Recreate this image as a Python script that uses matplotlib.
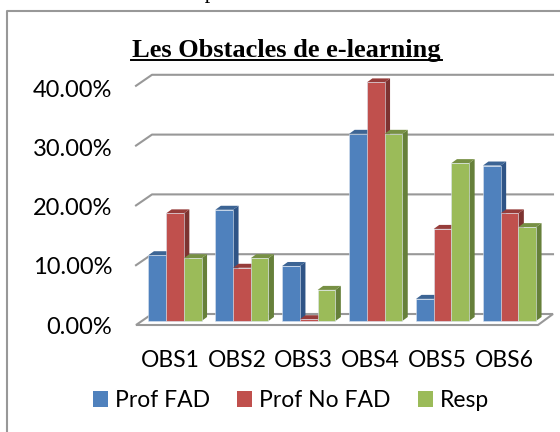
import matplotlib
matplotlib.use('Agg')
import matplotlib.pyplot as plt
from matplotlib.lines import Line2D
from matplotlib.patches import Patch, Polygon

categories = ['OBS1', 'OBS2', 'OBS3', 'OBS4', 'OBS5', 'OBS6']
series_names = ['Prof FAD', 'Prof No FAD', 'Resp']
prof_fad = [11.0, 18.6, 9.2, 31.3, 3.7, 26.0]
prof_no_fad = [18.0, 8.9, 0.3, 39.9, 15.4, 18.0]
resp = [10.5, 10.5, 5.2, 31.3, 26.4, 15.7]
ytick_values = [0, 10, 20, 30, 40]
ytick_labels = ['0.00%', '10.00%', '20.00%', '30.00%', '40.00%']

front = ['#4f81bd', '#c0504d', '#9bbb59']
side = ['#2f5486', '#7d3331', '#66803a']
top = ['#3c6494', '#963c3a', '#779044']
grey = '#989898'

W, H = 560, 432
PX_X = 66.9   # pixels per category
PX_Y = 5.98   # pixels per percent point
X0, Y0 = 175, 321   # pixel of first category centre, bar base
LEFT, RIGHT, BOTTOM, UPPER = 136, 553, 325, 60

def px(x):
    return (x - X0) / PX_X

def py(n):
    return n / PX_Y

plt.rcParams['font.family'] = ['Lato', 'DejaVu Sans']
fig = plt.figure(figsize=(W / 100, H / 100), dpi=100)
ax = fig.add_axes([LEFT / W, 1 - BOTTOM / H, (RIGHT - LEFT) / W, (BOTTOM - UPPER) / H])
ax.set_xlim(px(LEFT), px(RIGHT))
ax.set_ylim((Y0 - BOTTOM) / PX_Y, (Y0 - UPPER) / PX_Y)
ax.patch.set_visible(False)
for s in ax.spines.values():
    s.set_visible(False)

# walls and floor
back = py(7)
low = py(-4)
for v in ytick_values[1:]:
    ax.plot([px(136), px(152), px(553)], [low + v, back + v, back + v], color=grey, lw=1.5, zorder=1,
            clip_on=False, solid_joinstyle='round')
ax.add_patch(Polygon([(px(136), low), (px(538), low), (px(553), back), (px(152), back)], closed=True,
                     facecolor='white', edgecolor=grey, lw=1.5, zorder=1, clip_on=False))

# bars, the depth faces are added by hand
w = 17.7 / PX_X
dx = 5.5 / PX_X
dy = py(4)
for k, vals in enumerate([prof_fad, prof_no_fad, resp]):
    for i, h in enumerate(vals):
        x0 = i + (k - 1.5) * w
        x1 = x0 + w
        z = 2 + i * 3 + k * 0.9
        ax.add_patch(Polygon([(x1, 0), (x1 + dx, dy), (x1 + dx, h + dy), (x1, h)], closed=True,
                             facecolor=side[k], edgecolor='none', zorder=z))
        ax.add_patch(Polygon([(x0, h), (x0 + dx, h + dy), (x1 + dx, h + dy), (x1, h)], closed=True,
                             facecolor=top[k], edgecolor='none', zorder=z))
        ax.bar(x0, h, width=w, align='edge', color=front[k], edgecolor='#dbe4ef', linewidth=0.4,
               zorder=z + 0.1)

# labels sit a little tighter than the gridlines in the reference
ax.set_yticks([v * 0.987 + low for v in ytick_values])
ax.set_yticklabels(ytick_labels, fontsize=17)
ax.set_xticks([i - 5 / PX_X for i in range(len(categories))])
ax.set_xticklabels(categories, fontsize=16.5)
ax.tick_params(axis='y', length=0, pad=17)
ax.tick_params(axis='x', length=0, pad=18)

handles = [Patch(facecolor=c, edgecolor='none') for c in front]
ax.legend(handles, series_names, ncol=3, frameon=False, fontsize=16.5, loc='center left',
          bbox_to_anchor=(-0.103, -0.285), handlelength=0.65, handleheight=0.65,
          handletextpad=0.3, columnspacing=1.2, borderpad=0, borderaxespad=0)

# chart frame, cut by the picture on the right and at the bottom
fig.add_artist(Line2D([6.5 / W, 6.5 / W, 1], [0, 1 - 10.5 / H, 1 - 10.5 / H], color=grey, lw=1.5))

fig.text(286.5 / W, 1 - 56.5 / H, 'Les Obstacles de e-learning', family='Liberation Serif', weight='bold',
         fontsize=19, ha='center', va='baseline')
fig.add_artist(Line2D([131 / W, 442 / W], [1 - 59.5 / H, 1 - 59.5 / H], color='black', lw=1.4))

# line of the page text above the chart, mostly cut off
fig.text(64 / W, 1 + 2 / H, 'Les résultats se présentent comme suit :', family='Liberation Serif',
         fontsize=16, ha='left', va='baseline')

fig.savefig('out.png', dpi=100)
